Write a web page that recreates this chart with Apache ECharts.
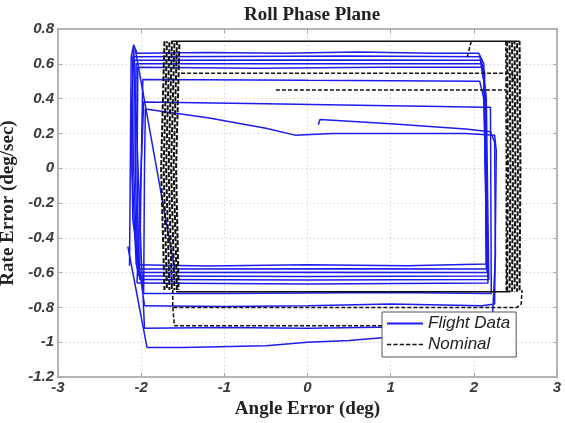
<!DOCTYPE html>
<html lang="en">
<head>
<meta charset="UTF-8">
<title>Roll Phase Plane</title>
<script src="https://cdn.jsdelivr.net/npm/echarts@6/dist/echarts.min.js"></script>
<style>
  html, body { margin: 0; padding: 0; background: #fff; }
  #main { width: 565px; height: 423px; }
</style>
</head>
<body>
<div id="main"></div>
<script type="text/javascript">
// axis ticks
var xTicks = [-3, -2, -1, 0, 1, 2, 3];
var yTicks = [-1.2, -1, -0.8, -0.6, -0.4, -0.2, 0, 0.2, 0.4, 0.6, 0.8];

// flight data, [angle error, rate error]
var flightA = [[-2.14,-0.56],[-2.12,0.64],[-2.09,0.71],[-2.05,0.66],[-1.2,0.665],[-0.3,0.66],[0.6,0.668],[1.5,0.66],[2.06,0.66],[2.12,0.6],[2.14,0],[2.15,-0.55],[1.2,-0.56],[0,-0.555],[-1.2,-0.562],[-2.06,-0.555]];
var flightB = [[-2.06,-0.555],[-2.11,0],[-2.10,0.64],[-1,0.642],[0.5,0.645],[2.07,0.64],[2.13,0.55],[2.15,-0.58],[0.5,-0.578],[-2.05,-0.58]];
var flightC = [[-2.05,-0.58],[-2.09,0],[-2.08,0.62],[0,0.622],[2.08,0.62],[2.12,0.5],[2.16,-0.60],[0,-0.598],[-2.04,-0.60]];
var flightD = [[-2.04,-0.60],[-2.07,0],[-2.06,0.60],[0,0.60],[2.09,0.60],[2.14,0.45],[2.17,-0.62],[0,-0.622],[-2.03,-0.62]];
var flightE = [[-2.03,-0.62],[-2.05,0],[-2.04,0.58],[-0.6,0.575],[0.9,0.58],[2.1,0.58],[2.15,0.4],[2.18,-0.64],[0,-0.642],[-2.02,-0.64]];
var flightF = [[-2.02,-0.64],[-2.0,0],[-1.98,0.51],[0,0.505],[2.07,0.50],[2.12,0.4],[2.17,-0.66],[0,-0.665],[-2.05,-0.66]];
var flightG = [[-2.05,-0.66],[-2.0,0],[-1.97,0.38],[-0.5,0.37],[0.8,0.36],[1.6,0.355],[2.1,0.35],[2.2,0.35],[2.21,-0.72],[1,-0.715],[-1,-0.72],[-1.97,-0.72]];
var flightH = [[-1.97,-0.72],[-1.96,0],[-1.95,0.34],[-1.2,0.29],[-0.5,0.23],[-0.15,0.19],[0.3,0.2],[1,0.2],[1.9,0.2],[2.25,0.19],[2.27,0.1],[2.25,-0.78],[2.1,-0.79],[1,-0.78],[0,-0.79],[-1,-0.795],[-1.96,-0.79]];
var flightJ = [[-1.96,-0.79],[-2.1,-0.3],[-2.12,0.3],[-2.09,0.7],[-2.06,0.3],[-2.0,-0.5],[-1.96,-0.92],[-1,-0.915],[0,-0.92],[1.5,-0.91],[2.2,-0.88]];
var flightK = [[-2.16,-0.45],[-1.93,-1.03],[-1.5,-1.03],[-0.5,-1.02],[0,-1.0],[0.5,-0.99],[1.0,-0.97],[1.5,-0.95],[2.22,-0.9],[2.26,-0.5],[2.25,0.15],[2.2,0.21],[1.9,0.225],[1,0.255],[0.15,0.28],[0.13,0.25]];
var flightDiag = [[-2.07,0.68],[-1.6,-0.57]];

// nominal simulation
var nomDash1 = [[-1.52,0.545],[2.46,0.545],[2.48,0.5]];
var nomDash2 = [[-0.38,0.45],[2.38,0.45]];
var nomDash3 = [[-1.62,-0.70],[-1.62,-0.80],[2.52,-0.80],[2.57,-0.78],[2.58,-0.70]];
var nomDash4 = [[-1.62,-0.80],[-1.60,-0.905],[1.6,-0.905]];
var nomDash5 = [[2.385,0.73],[2.39,0.0],[2.39,-0.70]];
var nomDash6 = [[1.92,0.64],[1.97,0.73]];
var nomTop = [[-1.64,0.73],[2.55,0.73]];
var nomBottom = [[-1.58,-0.71],[2.44,-0.71]];
var ribLeft1 = [[-1.72,0.73],[-1.76,0.0],[-1.72,-0.70]];
var ribLeft2 = [[-1.69,0.73],[-1.73,0.0],[-1.69,-0.70]];
var ribLeft3 = [[-1.66,0.73],[-1.70,0.0],[-1.66,-0.70]];
var ribLeft4 = [[-1.63,0.73],[-1.67,0.0],[-1.63,-0.70]];
var ribLeft5 = [[-1.60,0.73],[-1.64,0.0],[-1.60,-0.70]];
var ribLeft6 = [[-1.57,0.73],[-1.61,0.0],[-1.57,-0.70]];
var ribLeft7 = [[-1.54,0.73],[-1.58,0.0],[-1.55,-0.70]];
var ribRight1 = [[2.40,0.73],[2.41,0.0],[2.40,-0.71]];
var ribRight2 = [[2.43,0.73],[2.44,0.0],[2.43,-0.71]];
var ribRight3 = [[2.46,0.73],[2.47,0.0],[2.46,-0.71]];
var ribRight4 = [[2.49,0.73],[2.50,0.0],[2.49,-0.71]];
var ribRight5 = [[2.52,0.73],[2.53,0.0],[2.52,-0.71]];
var ribRight6 = [[2.55,0.73],[2.56,0.0],[2.55,-0.71]];

var flightPaths = [flightA, flightB, flightC, flightD, flightE, flightF, flightG, flightH, flightJ, flightK, flightDiag];
var nominalDashed = [nomDash1, nomDash2, nomDash3, nomDash4, nomDash5, nomDash6];
var nominalRibbons = [ribLeft1, ribLeft2, ribLeft3, ribLeft4, ribLeft5, ribLeft6, ribLeft7,
  ribRight1, ribRight2, ribRight3, ribRight4, ribRight5, ribRight6];
var nominalSolid = [nomTop, nomBottom];

var blue = '#1c1cf0';
var black = '#111111';

var series = [];
flightPaths.forEach(function (p) {
  series.push({
    name: 'Flight Data', type: 'line', data: p, symbol: 'none', silent: true,
    color: blue, lineStyle: { color: blue, width: 1.5 }
  });
});
nominalDashed.forEach(function (p) {
  series.push({
    name: 'Nominal', type: 'line', data: p, symbol: 'none', silent: true,
    color: black, lineStyle: { color: black, width: 1.5, type: [4, 2] }
  });
});
// hatched ribbons: shift the dash pattern so the dashes don't line up
nominalRibbons.forEach(function (p, i) {
  series.push({
    name: 'Nominal', type: 'line', data: p, symbol: 'none', silent: true,
    color: black, lineStyle: { color: black, width: 2, type: [5, 2], dashOffset: (i * 3) % 7 }
  });
});
nominalSolid.forEach(function (p) {
  series.push({
    name: 'Nominal', type: 'line', data: p, symbol: 'none', silent: true,
    color: black, lineStyle: { color: black, width: 1.5 }
  });
});

var tickFont = { fontFamily: 'Liberation Sans', fontStyle: 'italic', fontWeight: 'bold', fontSize: 15, color: '#3a3a3a' };
var nameFont = { fontFamily: 'Liberation Serif', fontWeight: 'bold', fontSize: 19, color: '#222' };

var xMin = xTicks[0], xMax = xTicks[xTicks.length - 1];
var yMin = yTicks[0], yMax = yTicks[yTicks.length - 1];

var myChart = echarts.init(document.getElementById('main'));
myChart.setOption({
  animation: false,
  title: {
    text: 'Roll Phase Plane', left: 307, top: 1, textAlign: 'center',
    textStyle: { fontFamily: 'Liberation Serif', fontWeight: 'bold', fontSize: 19, color: '#222' }
  },
  grid: { left: 58, right: 8, top: 29, bottom: 46, show: true, borderColor: '#b5b5b5', borderWidth: 2, containLabel: false, outerBoundsMode: 'none' },
  legend: {
    data: [
      { name: 'Flight Data', icon: 'path://M0,0H34V2H0Z' },
      { name: 'Nominal', icon: 'path://M0,0H4V1.6H0Z M6,0H10V1.6H6Z M12,0H16V1.6H12Z M18,0H22V1.6H18Z M24,0H28V1.6H24Z M30,0H34V1.6H30Z' }
    ],
    orient: 'vertical', left: 382, top: 312,
    padding: [3, 6, 4, 5], itemGap: 4, itemWidth: 36, itemHeight: 15,
    backgroundColor: '#fff', borderColor: '#555', borderWidth: 1,
    textStyle: { fontFamily: 'Liberation Sans', fontStyle: 'italic', fontSize: 17, color: '#222' }
  },
  xAxis: [{
    type: 'value', min: xMin, max: xMax, interval: 1,
    name: 'Angle Error (deg)', nameLocation: 'middle', nameGap: 21, nameTextStyle: nameFont,
    axisLine: { show: true, onZero: false, lineStyle: { color: '#b5b5b5', width: 2 } },
    axisTick: { show: true, inside: true, length: 4, lineStyle: { color: '#aaa' } },
    axisLabel: Object.assign({ margin: 3 }, tickFont),
    splitLine: { show: true, lineStyle: { color: '#c4c4c4', type: [1, 3] } }
  }, {
    type: 'value', position: 'top', min: xMin, max: xMax, interval: 1,
    axisLine: { show: false, onZero: false }, axisLabel: { show: false }, splitLine: { show: false },
    axisTick: { show: true, inside: true, length: 4, lineStyle: { color: '#aaa' } }
  }],
  yAxis: [{
    type: 'value', min: yMin, max: yMax, interval: 0.2,
    name: 'Rate Error (deg/sec)', nameLocation: 'middle', nameGap: 36, nameTextStyle: nameFont,
    axisLine: { show: true, onZero: false, lineStyle: { color: '#b5b5b5', width: 2 } },
    axisTick: { show: true, inside: true, length: 4, lineStyle: { color: '#aaa' } },
    axisLabel: Object.assign({ margin: 4 }, tickFont),
    splitLine: { show: true, lineStyle: { color: '#c4c4c4', type: [1, 3] } }
  }, {
    type: 'value', position: 'right', min: yMin, max: yMax, interval: 0.2,
    axisLine: { show: false, onZero: false }, axisLabel: { show: false }, splitLine: { show: false },
    axisTick: { show: true, inside: true, length: 4, lineStyle: { color: '#aaa' } }
  }],
  series: series
});
</script>
</body>
</html>
